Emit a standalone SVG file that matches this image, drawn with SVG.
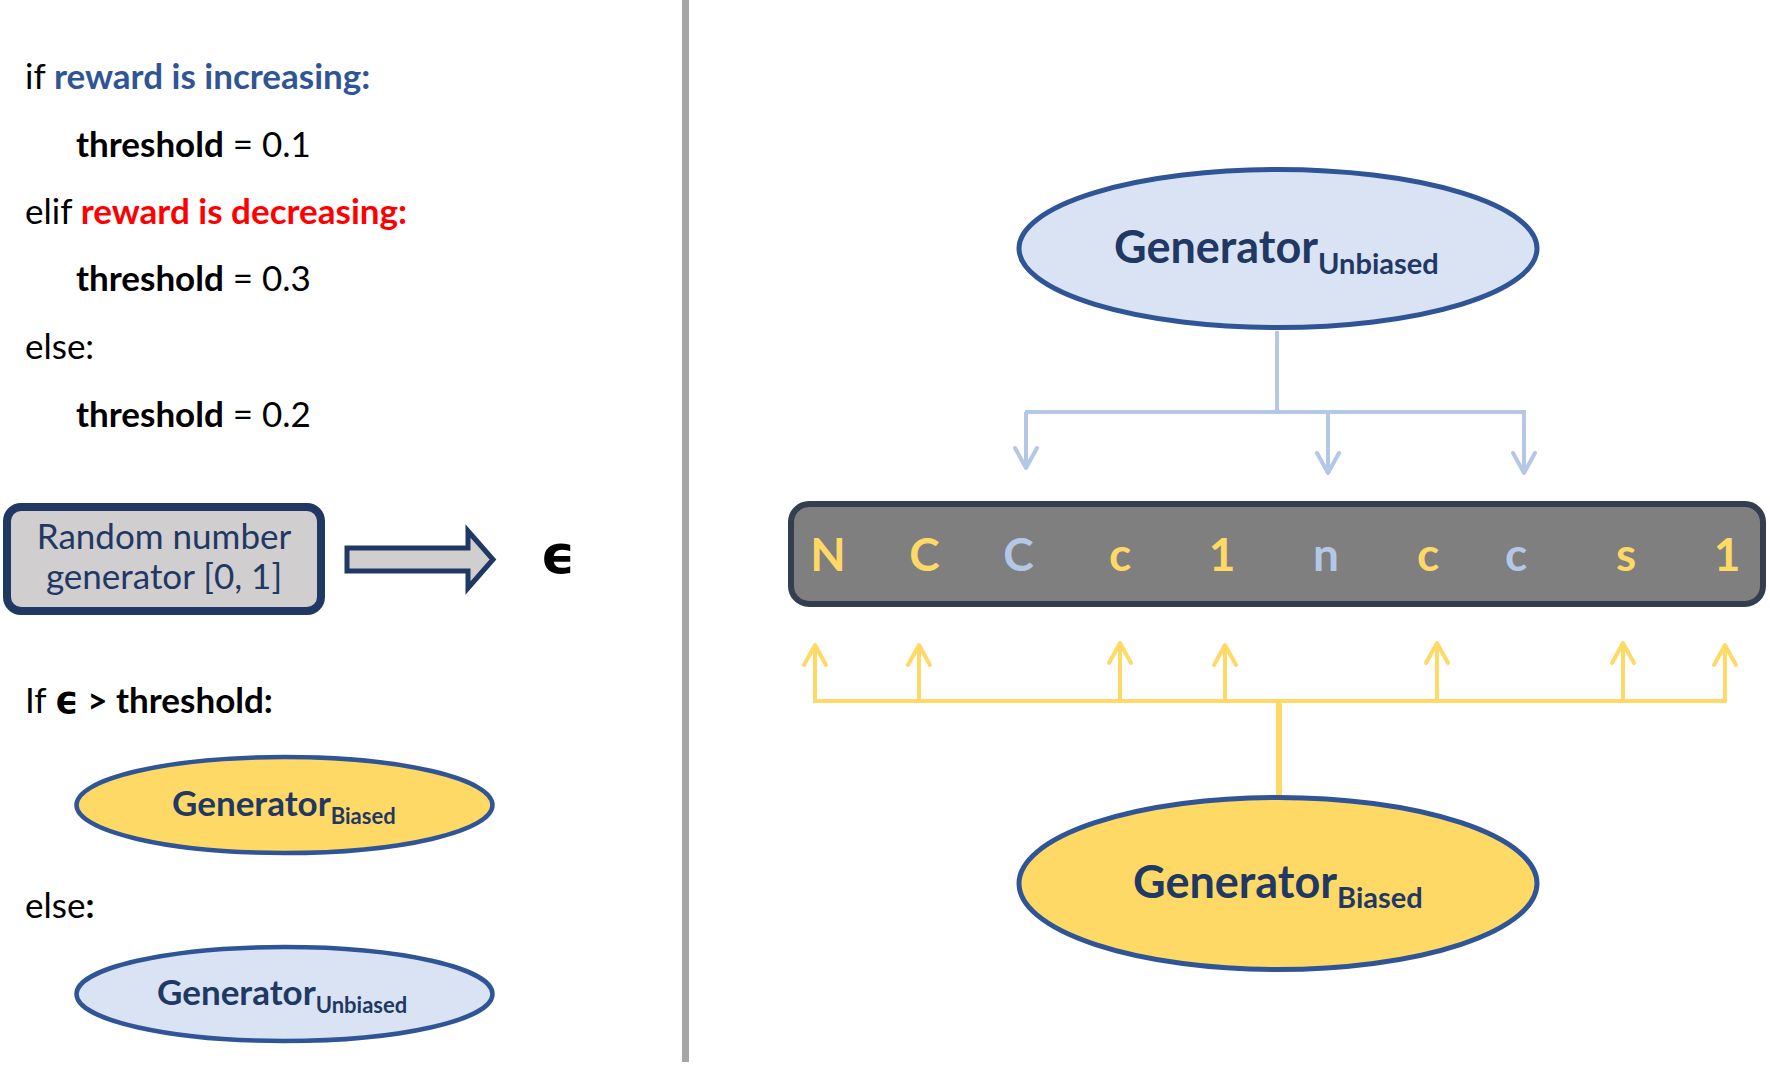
<svg xmlns="http://www.w3.org/2000/svg" width="1770" height="1065" viewBox="0 0 1770 1065">
<style>
  text { font-family: Lato, "Open Sans", "Liberation Sans", sans-serif; }
  .code { font-size: 35px; fill: #000000; }
  .b { font-weight: bold; }
  .blue { fill: #2F5597; font-weight: bold; }
  .red { fill: #FF0000; font-weight: bold; }
  .navy { fill: #1F3864; }
  .eps { font-family: "DejaVu Sans", sans-serif; font-weight: bold; }
  .ell { stroke: #2F5597; stroke-width: 4.5; }
  .ellbig { stroke: #2F5597; stroke-width: 5; }
  .gy { fill: #FFD966; }
  .gb { fill: #DAE3F3; }
  .tok { font-size: 46px; font-weight: bold; text-anchor: middle; }
  .ty { fill: #FFD966; }
  .tb { fill: #B4C7E7; }
  .cb { fill: none; stroke: #B4C7E7; stroke-width: 4; }
  .cy { fill: none; stroke: #FFD966; stroke-width: 4; }
  .cyt { fill: none; stroke: #FFD966; stroke-width: 6; }
</style>
<defs>
  <marker id="ab" viewBox="-3 -3 26 28" refX="20" refY="11" markerWidth="26" markerHeight="28" markerUnits="userSpaceOnUse" orient="auto">
    <path d="M0,0 L20,11 L0,22" fill="none" stroke="#B4C7E7" stroke-width="4" stroke-linecap="round" stroke-linejoin="round"/>
  </marker>
  <marker id="ay" viewBox="-3 -3 26 28" refX="20" refY="11" markerWidth="26" markerHeight="28" markerUnits="userSpaceOnUse" orient="auto">
    <path d="M0,0 L20,11 L0,22" fill="none" stroke="#FFD966" stroke-width="4" stroke-linecap="round" stroke-linejoin="round"/>
  </marker>
</defs>
<rect x="0" y="0" width="1770" height="1065" fill="#FFFFFF"/>

<rect id="separator" x="682" y="0" width="7" height="1062" fill="#A6A6A6"/>

<g id="pseudocode">
  <text class="code" x="25" y="89">if <tspan class="blue">reward is increasing:</tspan></text>
  <text class="code" x="76" y="157"><tspan class="b">threshold</tspan> = 0.1</text>
  <text class="code" x="25" y="224">elif <tspan class="red">reward is decreasing:</tspan></text>
  <text class="code" x="76" y="291"><tspan class="b">threshold</tspan> = 0.3</text>
  <text class="code" x="25" y="359">else:</text>
  <text class="code" x="76" y="427"><tspan class="b">threshold</tspan> = 0.2</text>
</g>

<g id="rng">
  <rect x="7" y="507" width="314" height="104" rx="14" ry="14" fill="#D0CECE" stroke="#1F3864" stroke-width="8"/>
  <text class="navy" x="164" y="549" font-size="35" text-anchor="middle">Random number</text>
  <text class="navy" x="164" y="589" font-size="35" text-anchor="middle">generator [0, 1]</text>
</g>

<g id="rng-arrow">
  <path d="M347,548 L468,548 L468,531 L493,559.5 L468,588 L468,571 L347,571 Z" fill="#D0CECE" stroke="#1F3864" stroke-width="5" stroke-linejoin="miter"/>
</g>

<g id="epsilon">
  <text class="eps" x="558" y="573" font-size="54" text-anchor="middle" fill="#000000">ϵ</text>
</g>

<g id="condition">
  <text class="code" x="25" y="713">If <tspan class="eps" font-size="37">ϵ</tspan><tspan class="b"> &gt; threshold:</tspan></text>
  <text class="code" x="25" y="918">else<tspan class="b">:</tspan></text>
</g>

<g id="left-biased">
  <ellipse class="ell gy" cx="284.5" cy="805" rx="208" ry="48"/>
  <text class="navy b" x="172" y="816" font-size="35">Generator<tspan font-size="22" dy="8">Biased</tspan></text>
</g>

<g id="left-unbiased">
  <ellipse class="ell gb" cx="284.5" cy="994" rx="208" ry="47"/>
  <text class="navy b" x="157" y="1005" font-size="35">Generator<tspan font-size="22" dy="8">Unbiased</tspan></text>
</g>

<g id="top-unbiased">
  <ellipse class="ellbig gb" cx="1278" cy="248.5" rx="259" ry="79"/>
  <text class="navy b" x="1114" y="263" font-size="45">Generator<tspan font-size="29" dy="11">Unbiased</tspan></text>
</g>

<g id="sequence">
  <rect x="791" y="504" width="972" height="100" rx="18" ry="18" fill="#7F7F7F" stroke="#333F50" stroke-width="6"/>
  <text class="tok ty" x="828" y="571">N</text>
  <text class="tok ty" x="924.5" y="571">C</text>
  <text class="tok tb" x="1018.5" y="571">C</text>
  <text class="tok ty" x="1120" y="571">c</text>
  <text class="tok ty" x="1222" y="571">1</text>
  <text class="tok tb" x="1326" y="571">n</text>
  <text class="tok ty" x="1428" y="571">c</text>
  <text class="tok tb" x="1516" y="571">c</text>
  <text class="tok ty" x="1626" y="571">s</text>
  <text class="tok ty" x="1727" y="571">1</text>
</g>

<g id="bottom-biased">
  <ellipse class="ellbig gy" cx="1278" cy="883.5" rx="259" ry="86"/>
  <text class="navy b" x="1133" y="898" font-size="45">Generator<tspan font-size="29" dy="10">Biased</tspan></text>
</g>

<g id="connectors">
  <path class="cb" d="M1277,331 L1277,412"/>
  <path class="cb" d="M1025,412 L1526,412"/>
  <path class="cb" d="M1026,412 L1026,468" marker-end="url(#ab)"/>
  <path class="cb" d="M1328,412 L1328,473" marker-end="url(#ab)"/>
  <path class="cb" d="M1524,412 L1524,473" marker-end="url(#ab)"/>

  <path class="cyt" d="M1279,795 L1279,701"/>
  <path class="cy" d="M813,701 L1727,701"/>
  <path class="cy" d="M815,701 L815,645" marker-end="url(#ay)"/>
  <path class="cy" d="M919,701 L919,645" marker-end="url(#ay)"/>
  <path class="cy" d="M1120,701 L1120,643" marker-end="url(#ay)"/>
  <path class="cy" d="M1225,701 L1225,645" marker-end="url(#ay)"/>
  <path class="cy" d="M1437,701 L1437,643" marker-end="url(#ay)"/>
  <path class="cy" d="M1623,701 L1623,643" marker-end="url(#ay)"/>
  <path class="cy" d="M1725,701 L1725,645" marker-end="url(#ay)"/>
</g>
</svg>
